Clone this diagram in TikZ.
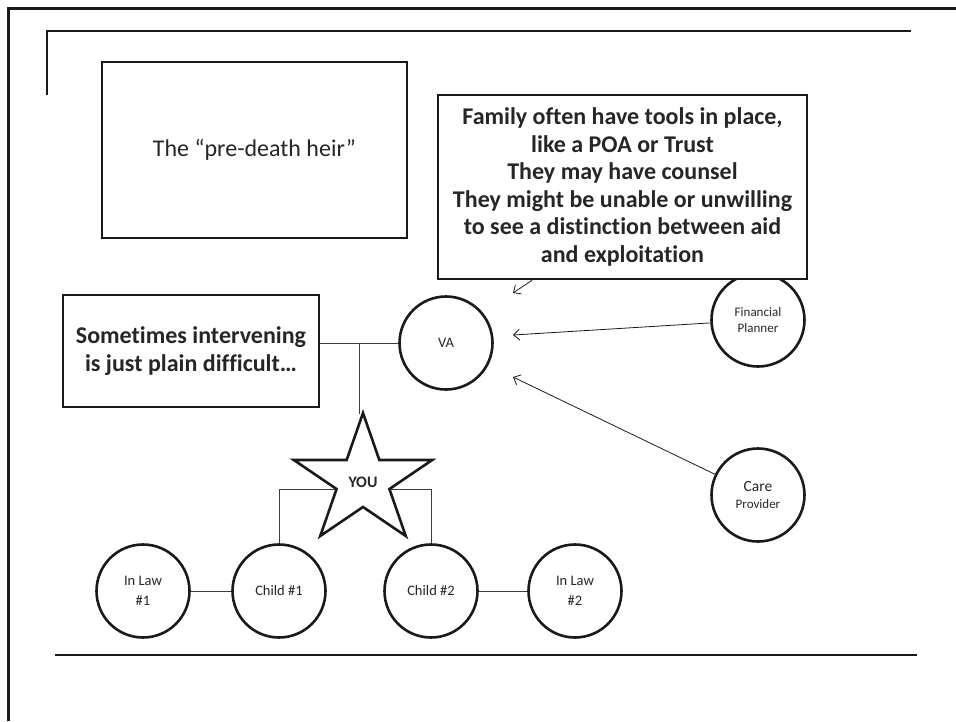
\documentclass[tikz,border=0pt]{standalone}
\usepackage{fontspec}
\setmainfont{Carlito}[Ligatures={NoCommon}]
\usetikzlibrary{shapes.geometric,arrows.meta}
\definecolor{ink}{HTML}{1A1A1A}
\definecolor{txt}{HTML}{262626}
\begin{document}
\begin{tikzpicture}[x=1pt,y=-1pt,
  rule/.style={draw=ink, line width=3pt},
  textbox/.style={rectangle, draw=ink, line width=2.6pt, fill=white, inner sep=0pt,
    align=center, text=txt},
  bigbold/.style={font=\fontsize{24}{27.6}\selectfont\bfseries},
  person/.style={circle, draw=ink, line width=2.6pt, fill=white, minimum size=93pt,
    inner sep=0pt, align=center, text=txt, font=\fontsize{14.5}{20}\selectfont},
  link/.style={draw=ink!85, line width=1pt},
  pointer/.style={draw=ink, line width=0.8pt, -{Straight Barb[length=6pt,width=11pt]}},
]
\useasboundingbox (0,0) rectangle (956,721);

% page frame and rules
\draw[rule, line join=miter] (8,721) -- (8,8) -- (956,8);
\draw[draw=ink, line width=2pt, line join=miter] (47,95) -- (47,31) -- (911,31);
\draw[draw=ink, line width=2.5pt] (55,655) -- (917,655);

% people
\node[person] (va) at (446,343) {VA};
\node[person, font=\fontsize{13}{16}\selectfont] (fp) at (758,320) {Financial\\Planner};
\node[person, font=\fontsize{13}{17}\selectfont] (cp) at (758,495)
  {{\fontsize{15.5}{17}\selectfont Care}\\Provider};
\node[person] (inlaw1) at (143,591) {In Law\\\#1};
\node[person] (child1) at (279,591) {Child \#1};
\node[person] (child2) at (431,591) {Child \#2};
\node[person] (inlaw2) at (575,591) {In Law\\\#2};

% text boxes
\node[textbox, minimum width=305pt, minimum height=176pt,
  font=\fontsize{24}{28}\selectfont] (heir) at (254.5,150) {The “pre-death heir”};
\node[textbox, bigbold, minimum width=369pt, minimum height=184pt] (family) at (622.5,187)
  {Family often have tools in place,\\like a POA or Trust\\They may have counsel\\
   They might be unable or unwilling\\to see a distinction between aid\\and exploitation};
\node[textbox, bigbold, minimum width=256pt, minimum height=112pt] (hard) at (191,351)
  {Sometimes intervening\\is just plain difficult…};

% arrow targets beside VA
\coordinate (tFam) at (513,293);
\coordinate (tFP) at (513,335);
\coordinate (tCP) at (513,377);
\coordinate (j) at (359,343);

% family tree links
\draw[link] (hard.east |- va.west) -- (va.west);
\draw[link] (j) -- (j |- 0,414);

\node[star, star points=5, star point ratio=2.618, minimum size=136pt, draw=ink,
  line width=2.6pt, fill=white, inner sep=0pt, xscale=1.07] (you) at (363,481) {};
\node[text=txt, font=\fontsize{16}{18}\selectfont\bfseries] (youlabel) at (363,482) {YOU};

\draw[link] (you.inner point 2) -| (child1.north);
\draw[link] (you.inner point 4) -| (child2.north);
\draw[link] (inlaw1) -- (child1);
\draw[link] (child2) -- (inlaw2);

% influences on VA
\draw[pointer] ([xshift=-90.5pt]family.south) -- (tFam);
\draw[pointer] (fp) -- (tFP);
\draw[pointer] (cp) -- (tCP);
\end{tikzpicture}
\end{document}
